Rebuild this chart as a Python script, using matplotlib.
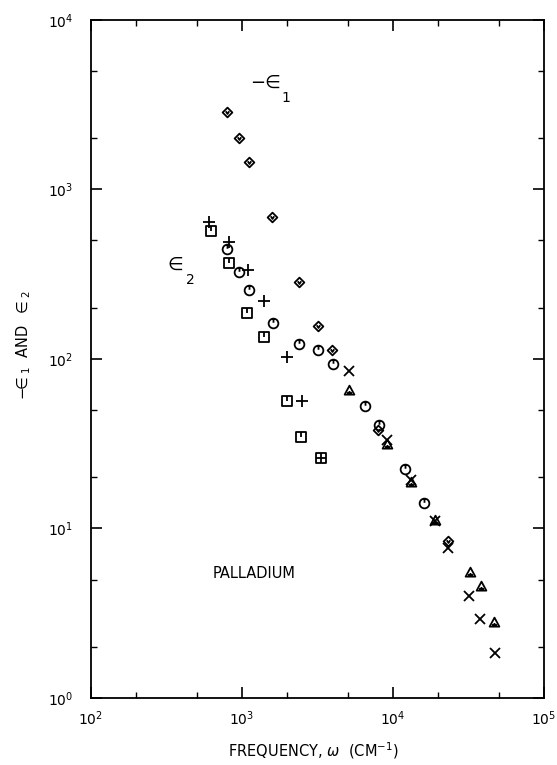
import matplotlib
matplotlib.use('Agg')
import matplotlib.pyplot as plt
from matplotlib.path import Path
from matplotlib.ticker import LogLocator, NullFormatter

# -eps1 (diamonds)
eps1_freq = [792, 953, 1110, 1591, 2393, 3199, 3973, 7956, 23070]
eps1_val = [2866, 2005, 1446, 691, 283.5, 156.6, 113, 38.1, 8.44]

# eps2, squares
sq_freq = [622, 814, 1082, 1399, 1989, 2449]
sq_val = [569, 367, 186, 134.3, 56.8, 34.5]
sqplus_freq = [3331]
sqplus_val = [25.9]

# eps2, plus signs
plus_freq = [603, 819, 1093, 1400, 2001, 2489]
plus_val = [646, 488, 335, 220.8, 103.2, 56.8]

# eps2, circles
circ_freq = [792, 953, 1117, 1603, 2399, 3207, 4008, 6479, 8035, 12010, 16110]
circ_val = [444, 324.8, 255, 162.4, 122.6, 113, 93.4, 52.8, 40.8, 22.4, 14.2]

# high frequency sets
x_freq = [5140, 9186, 13190, 19100, 23100, 31990, 37940, 47100]
x_val = [85.0, 33.3, 19.3, 11.07, 7.64, 4.0, 2.91, 1.835]
tri_freq = [5130, 9190, 13190, 19100, 32250, 38190, 46960]
tri_val = [65.2, 31.4, 18.8, 11.2, 5.56, 4.60, 2.82]


def closed(pts):
    return Path(pts + [pts[0]], closed=True)


square = [(-1, -1), (1, -1), (1, 1), (-1, 1)]
circle_tick = Path.make_compound_path(Path.unit_circle(), Path([(0, 1), (0, 0.15)]))
square_tick = Path.make_compound_path(closed(square), Path([(0, 1), (0, 0.1)]))
square_plus = Path.make_compound_path(closed(square), Path([(-1, 0), (1, 0)]),
                                      Path([(0, -1), (0, 1)]))
diamond_v = Path.make_compound_path(closed([(0, 1), (1, 0), (0, -1), (-1, 0)]),
                                    Path([(-0.35, 0.25), (0, -0.3), (0.35, 0.25)]))
triangle_in = Path.make_compound_path(closed([(-1, -0.85), (1, -0.85), (0, 1)]),
                                      Path([(0, -0.85), (0, -0.1)]),
                                      Path([(-0.5, -0.5), (0.5, -0.5)]))

fig = plt.figure(figsize=(5.57, 7.65), dpi=100)
ax = fig.add_axes([91 / 557, 0.0876, 453 / 557, 0.8863])

kw = dict(linestyle='none', color='black', mfc='none', mew=1.3)
ax.plot(eps1_freq, eps1_val, marker=diamond_v, ms=7, **kw)
ax.plot(sq_freq, sq_val, marker=square_tick, ms=6.5, **kw)
ax.plot(sqplus_freq, sqplus_val, marker=square_plus, ms=6.5, **kw)
ax.plot(plus_freq, plus_val, marker='+', ms=8, **kw)
ax.plot(circ_freq, circ_val, marker=circle_tick, ms=7, **kw)
ax.plot(x_freq, x_val, marker='x', ms=7.5, **kw)
ax.plot(tri_freq, tri_val, marker=triangle_in, ms=7, **kw)

ax.set_xscale('log')
ax.set_yscale('log')
ax.set_xlim(1e2, 1e5)
ax.set_ylim(1e0, 1e4)

for axis in (ax.xaxis, ax.yaxis):
    axis.set_major_locator(LogLocator(base=10, numticks=10))
    axis.set_minor_locator(LogLocator(base=10, subs=(2.0, 5.0), numticks=10))
    axis.set_minor_formatter(NullFormatter())

ax.tick_params(which='both', direction='in', top=True, right=True, labelsize=10)
ax.tick_params(which='major', length=8, width=1.2)
ax.tick_params(which='minor', length=4.5, width=1.0)
ax.tick_params(axis='x', pad=8)
ax.tick_params(axis='y', pad=13)
for s in ax.spines.values():
    s.set_linewidth(1.3)

ax.set_xlabel(r'FREQUENCY, $\omega$  (CM$^{-1}$)', fontsize=10.5)
ax.xaxis.set_label_coords(0.49, -0.063)
ax.set_ylabel(r'$-\!\!\in_1$  AND  $\in_2$', fontsize=10.5)
ax.yaxis.set_label_coords(-0.128, 0.52)

ax.text(0.385, 0.907, '\u2212\u2208', transform=ax.transAxes, fontsize=13,
        ha='center', va='center')
ax.text(0.430, 0.885, '1', transform=ax.transAxes, fontsize=10,
        ha='center', va='center')
ax.text(0.185, 0.639, '\u2208', transform=ax.transAxes, fontsize=13,
        ha='center', va='center')
ax.text(0.219, 0.617, '2', transform=ax.transAxes, fontsize=10,
        ha='center', va='center')
ax.text(0.360, 0.183, 'PALLADIUM', transform=ax.transAxes, fontsize=10.5,
        ha='center', va='center')

fig.savefig('out.png', dpi=100)
